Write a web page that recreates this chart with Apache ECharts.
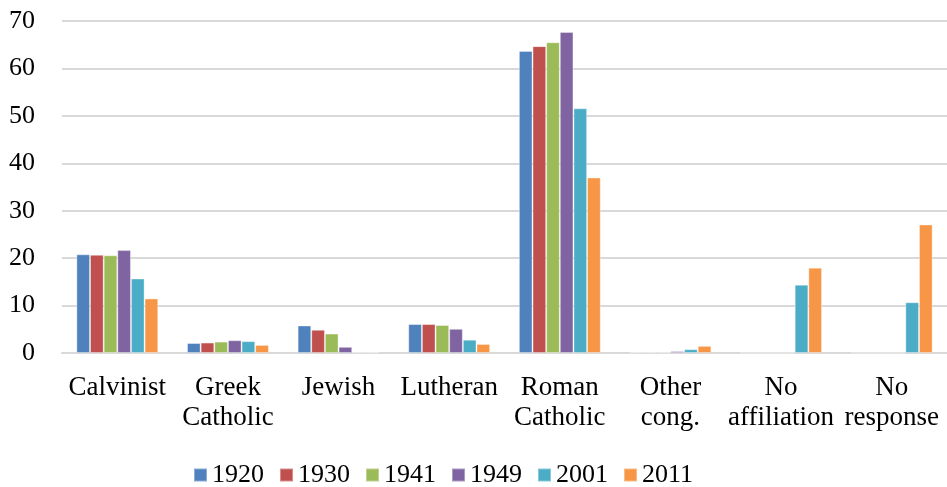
<!DOCTYPE html>
<html>
<head>
<meta charset="utf-8">
<script src="https://cdn.jsdelivr.net/npm/echarts@6/dist/echarts.min.js"></script>
<style>
  html, body { margin: 0; padding: 0; background: #fff; }
  #chart { width: 947px; height: 487px; }
</style>
</head>
<body>
<div id="chart"></div>
<script>
// categories and values (percent)
var categories = ['Calvinist', 'Greek\nCatholic', 'Jewish', 'Lutheran', 'Roman\nCatholic', 'Other\ncong.', 'No\naffiliation', 'No\nresponse']
var years = ['1920', '1930', '1941', '1949', '2001', '2011']
var v1920 = [20.8, 2.1, 5.8, 6.1, 63.7, 0.1, 0, 0]
var v1930 = [20.7, 2.2, 4.9, 6.1, 64.7, 0.1, 0, 0]
var v1941 = [20.6, 2.4, 4.1, 5.9, 65.5, 0.1, 0, 0]
var v1949 = [21.7, 2.7, 1.3, 5.1, 67.7, 0.4, 0, 0]
var v2001 = [15.7, 2.5, 0.1, 2.8, 51.6, 0.8, 14.4, 10.7]
var v2011 = [11.5, 1.7, 0.1, 1.9, 37.0, 1.5, 18.0, 27.1]
var colors = ['#4F81BD', '#C0504D', '#9BBB59', '#8064A2', '#4BACC6', '#F79646']

var seriesData = [v1920, v1930, v1941, v1949, v2001, v2011]
var font = 'Liberation Serif'

var myChart = echarts.init(document.getElementById('chart'))
var option = {
  animation: false,
  color: colors,
  grid: {
    left: 62,
    right: 0,
    top: 21,
    bottom: 134
  },
  legend: {
    top: 457,
    left: 188,
    itemWidth: 13,
    itemHeight: 13,
    itemGap: 15,
    icon: 'rect',
    textStyle: {
      fontFamily: font,
      fontSize: 26,
      color: '#000'
    },
    data: years
  },
  xAxis: {
    type: 'category',
    data: categories,
    axisTick: { show: false },
    axisLine: { lineStyle: { color: '#D9D9D9', width: 2 } },
    axisLabel: {
      margin: 20,
      fontFamily: font,
      fontSize: 27,
      lineHeight: 30,
      color: '#000',
      interval: 0
    }
  },
  yAxis: {
    type: 'value',
    min: 0,
    max: 70,
    interval: 10,
    axisLine: { show: false },
    axisTick: { show: false },
    splitLine: { lineStyle: { color: '#D9D9D9', width: 2 } },
    axisLabel: {
      margin: 27,
      fontFamily: font,
      fontSize: 26,
      color: '#000'
    }
  },
  series: years.map(function (y, i) {
    return {
      name: y,
      type: 'bar',
      data: seriesData[i],
      barGap: '0%',
      barCategoryGap: '26%',
      itemStyle: { borderColor: 'rgba(255,255,255,0.35)', borderWidth: 1 }
    }
  })
}
myChart.setOption(option, true)
</script>
</body>
</html>
